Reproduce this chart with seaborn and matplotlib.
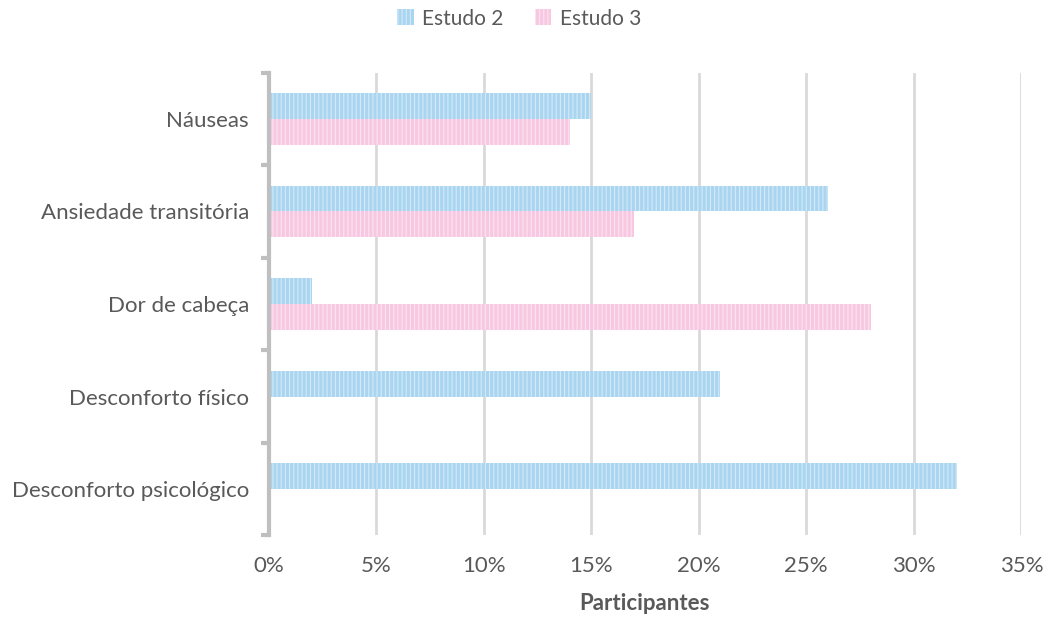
import pandas as pd
import matplotlib.pyplot as plt
import seaborn as sns
from matplotlib.ticker import FuncFormatter

# Data (percent of participants)
categories = ['Náuseas', 'Ansiedade transitória', 'Dor de cabeça',
              'Desconforto físico', 'Desconforto psicológico']
estudo2 = [15, 26, 2, 21, 32]
estudo3 = [14, 17, 28, 0, 0]
series = ['Estudo 2', 'Estudo 3']
xticks = [0, 5, 10, 15, 20, 25, 30, 35]

df = pd.DataFrame({
    'sintoma': categories * 2,
    'valor': estudo2 + estudo3,
    'estudo': [series[0]] * len(categories) + [series[1]] * len(categories),
})

sns.set_style('white')
plt.rcParams['font.family'] = ['Lato', 'DejaVu Sans']
plt.rcParams['hatch.color'] = 'white'
plt.rcParams['hatch.linewidth'] = 0.8

grey = '#595959'
colors = {'Estudo 2': '#A9D5F0', 'Estudo 3': '#F8C8E2'}

fig, ax = plt.subplots(figsize=(10.53, 6.21), dpi=100)
fig.subplots_adjust(left=0.255, right=0.97, top=0.883, bottom=0.138)

sns.barplot(data=df, y='sintoma', x='valor', hue='estudo', orient='h',
            palette=colors, width=0.56, ax=ax, linewidth=0, saturation=1)

for patch in ax.patches:
    patch.set_hatch('||||')
    patch.set_edgecolor((1, 1, 1, 0.5))
    patch.set_linewidth(0)

ax.set_xlim(0, 35)
ax.set_ylim(len(categories) - 0.5, -0.5)
ax.set_xticks(xticks)
ax.xaxis.set_major_formatter(FuncFormatter(lambda v, p: f'{v:.0f}%'))
ax.grid(axis='x', color='#D9D9D9', linewidth=2)
ax.set_axisbelow(True)

# y axis: thick grey spine with ticks at category boundaries
for s in ['top', 'right', 'bottom']:
    ax.spines[s].set_visible(False)
ax.spines['left'].set_color('#BFBFBF')
ax.spines['left'].set_linewidth(3)
ax.set_yticks([i - 0.5 for i in range(len(categories) + 1)], minor=True)
ax.tick_params(axis='y', which='major', left=True, length=0, pad=14,
               labelsize=16, labelcolor=grey)
ax.tick_params(axis='y', which='minor', left=True, length=6, width=3,
               color='#BFBFBF', direction='out')
ax.tick_params(axis='x', length=0, pad=15, labelsize=16, labelcolor=grey)

ax.set_ylabel('')
ax.set_xlabel('Participantes', fontsize=16, fontweight='bold', color=grey, labelpad=12)

ax.legend(loc='center', bbox_to_anchor=(0.493, 0.97), bbox_transform=fig.transFigure,
          ncol=2, frameon=False, fontsize=15, labelcolor=grey,
          handlelength=0.8, handleheight=0.8, handletextpad=0.4, columnspacing=1.5)

plt.savefig('out.png', dpi=100)
plt.close()
